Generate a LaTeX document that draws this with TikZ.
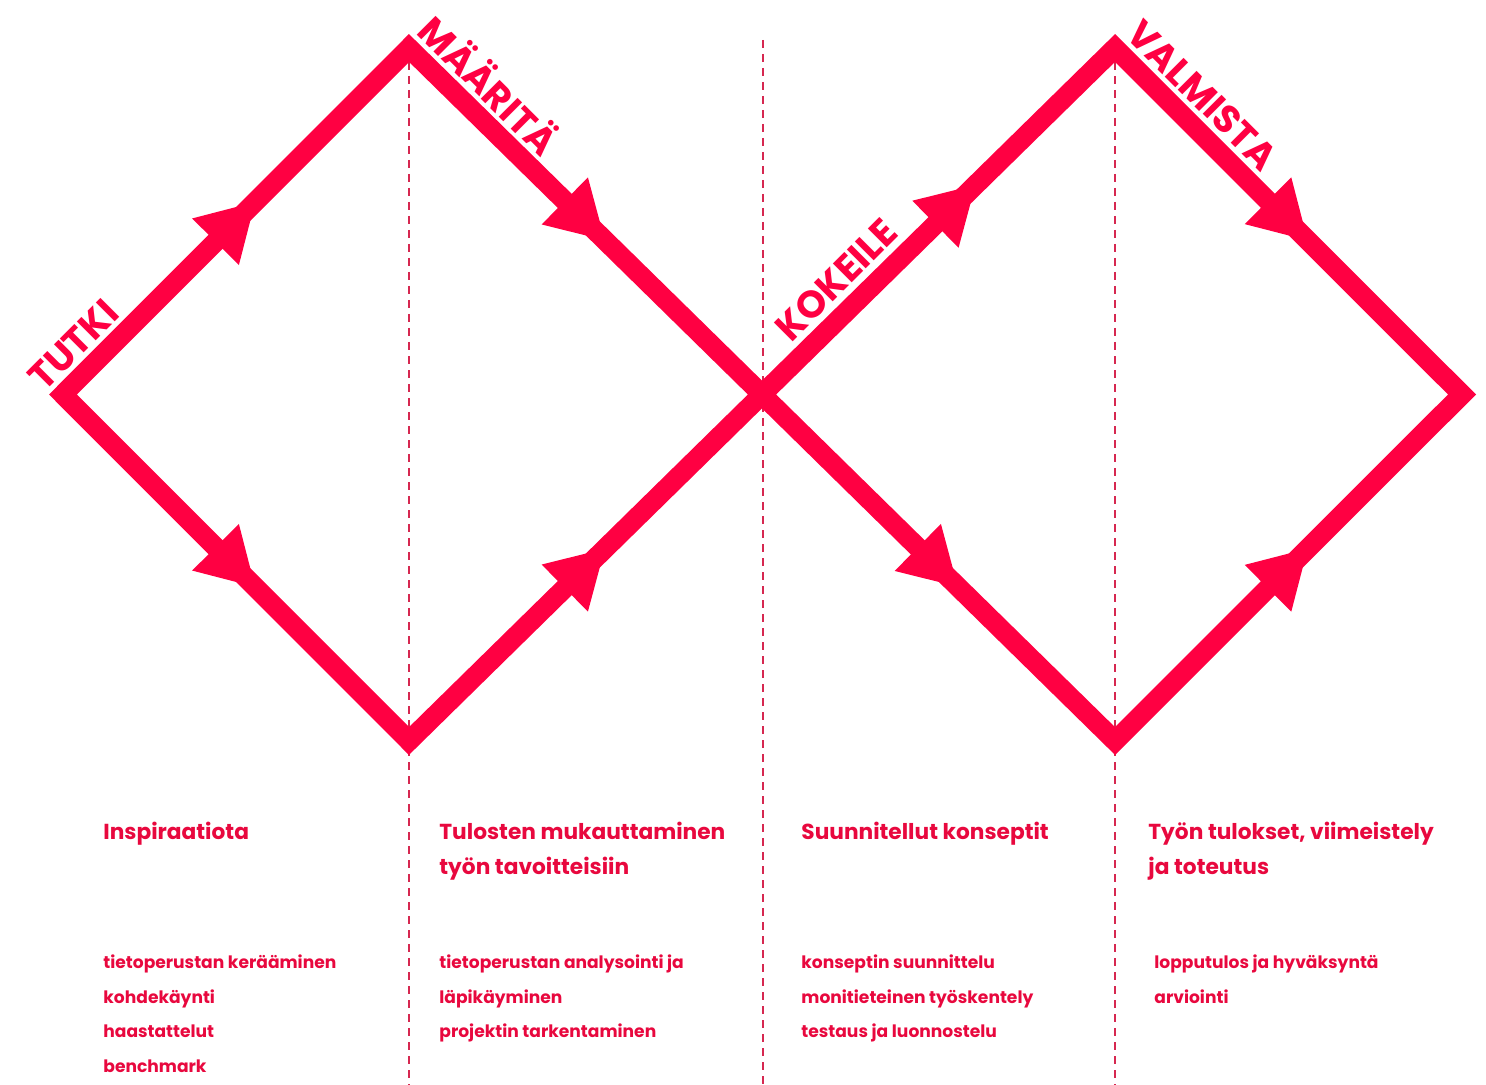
\documentclass[tikz,border=0pt]{standalone}
\usepackage{fontspec}
\setmainfont{Poppins}
\usetikzlibrary{decorations.markings}
\definecolor{mainred}{RGB}{255,0,66}
\definecolor{textred}{RGB}{232,8,62}
\definecolor{dashred}{RGB}{214,40,80}
\tikzset{
  figure/.style={draw=mainred, line width=9.9pt, line join=miter, miter limit=10},
  arrowmark/.style={decoration={markings, mark=at position #1 with {\fill[mainred] (13.5pt,0) -- (-14.5pt,16.5pt) -- (-14.5pt,-16.5pt) -- cycle;}}, decorate},
  arrowmark/.default=0.5,
  guide/.style={draw=dashred, line width=0.75pt, dash pattern=on 4pt off 3pt},
  phase/.style={text=mainred, font=\fontsize{19}{19}\selectfont\bfseries, anchor=base, inner sep=0pt},
  headtxt/.style={text=textred, font=\fontsize{10.85}{10.85}\selectfont\bfseries, anchor=base west, inner sep=0pt},
  bodytxt/.style={text=textred, font=\fontsize{8.55}{8.55}\selectfont\bfseries, anchor=base west, inner sep=0pt}
}
\begin{document}
\begin{tikzpicture}[x=0.5pt, y=-0.5pt]
\useasboundingbox (0,0) rectangle (1486,1085);
% vertices
\coordinate (L1) at (63,394.5);
\coordinate (T1) at (409,48);
\coordinate (B1) at (409,741);
\coordinate (X) at (762,394.5);
\coordinate (T2) at (1115,48);
\coordinate (B2) at (1115,741);
\coordinate (R2) at (1462,394.5);
% dashed guides
\coordinate (G1t) at (409,48);  \coordinate (G1b) at (409,1085);
\coordinate (G2t) at (763,40);  \coordinate (G2b) at (763,1085);
\coordinate (G3t) at (1115,48); \coordinate (G3b) at (1115,1085);
\draw[guide] (G1t) -- (G1b);
\draw[guide] (G2t) -- (G2b);
\draw[guide] (G3t) -- (G3b);
% figure eight
\draw[figure] (L1) -- (T1) -- (B2) -- (R2) -- (T2) -- (B1) -- cycle;
% arrows
\path[arrowmark] (L1) -- (T1);
\path[arrowmark] (T1) -- (X);
\path[arrowmark] (L1) -- (B1);
\path[arrowmark] (B1) -- (X);
\path[arrowmark=0.55] (X) -- (T2);
\path[arrowmark] (T2) -- (R2);
\path[arrowmark] (X) -- (B2);
\path[arrowmark] (B2) -- (R2);
% phase labels
\node[phase, rotate=45] (tutki) at (82.8,354.2) {TUTKI};
\node[phase, rotate=-45] (maarita) at (478.3,96.1) {MÄÄRITÄ};
\node[phase, rotate=45] (kokeile) at (846,289.3) {KOKEILE};
\node[phase, rotate=-45] (valmista) at (1192.8,104.6) {VALMISTA};
% headings
\node[headtxt] (h1) at (103,839) {Inspiraatiota};
\node[headtxt] (h2a) at (439,839) {Tulosten mukauttaminen};
\node[headtxt] (h2b) at (439,874) {työn tavoitteisiin};
\node[headtxt] (h3) at (801,839) {Suunnitellut konseptit};
\node[headtxt] (h4a) at (1148,839) {Työn tulokset, viimeistely};
\node[headtxt] (h4b) at (1148,874) {ja toteutus};
% body
\node[bodytxt] (b1a) at (103,968) {tietoperustan kerääminen};
\node[bodytxt] (b1b) at (103,1003) {kohdekäynti};
\node[bodytxt] (b1c) at (103,1037.5) {haastattelut};
\node[bodytxt] (b1d) at (103,1072) {benchmark};
\node[bodytxt] (b2a) at (439,968) {tietoperustan analysointi ja};
\node[bodytxt] (b2b) at (439,1003) {läpikäyminen};
\node[bodytxt] (b2c) at (439,1037.5) {projektin tarkentaminen};
\node[bodytxt] (b3a) at (801,968) {konseptin suunnittelu};
\node[bodytxt] (b3b) at (801,1003) {monitieteinen työskentely};
\node[bodytxt] (b3c) at (801,1037.5) {testaus ja luonnostelu};
\node[bodytxt] (b4a) at (1154,968) {lopputulos ja hyväksyntä};
\node[bodytxt] (b4b) at (1154,1003) {arviointi};
\end{tikzpicture}
\end{document}
